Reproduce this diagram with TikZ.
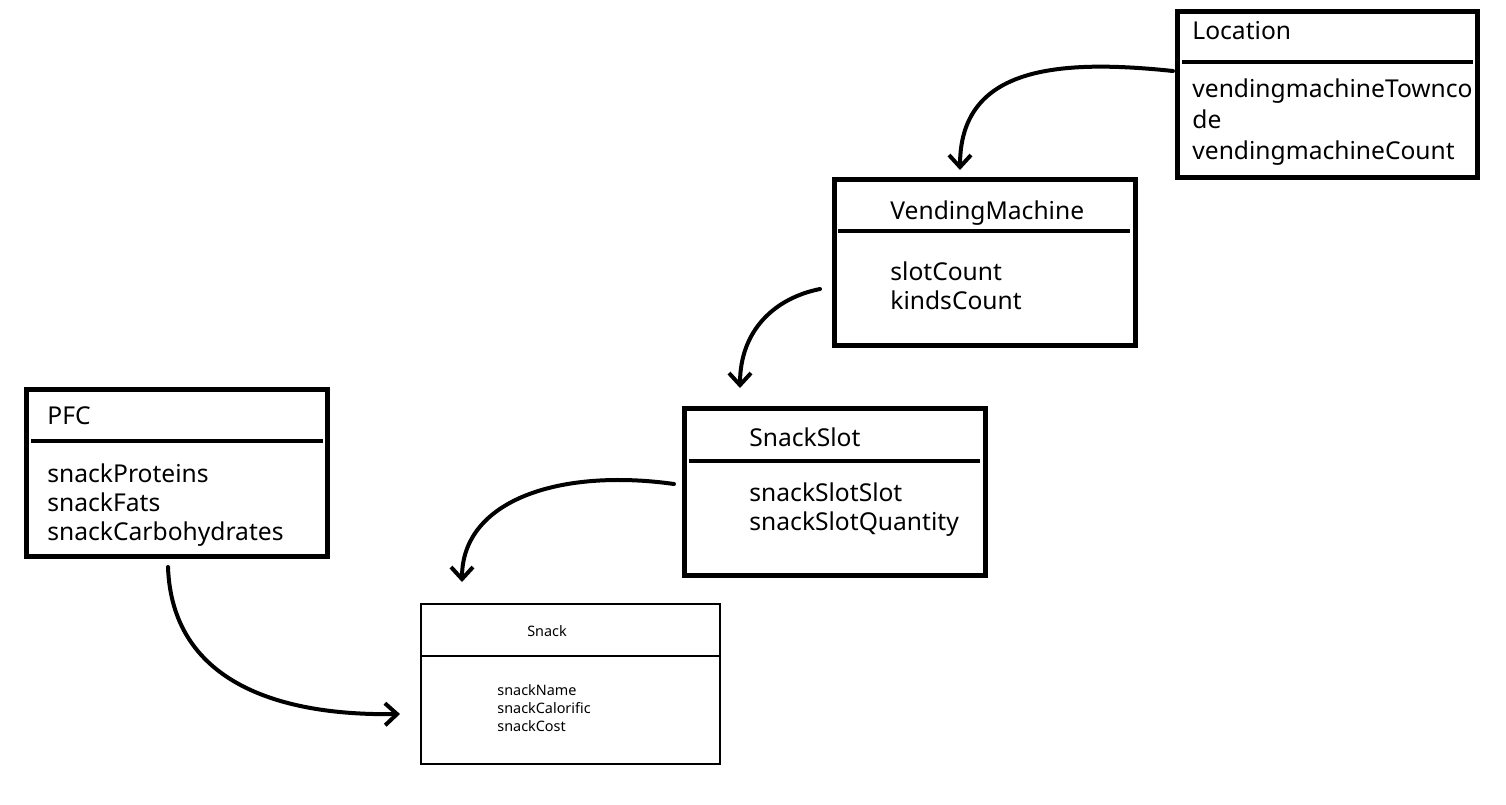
\documentclass[tikz,border=0pt]{standalone}
\usepackage{fontspec}
\setmainfont{Noto Sans}
\usetikzlibrary{arrows.meta,calc}
\tikzset{
  box/.style={draw, line width=2.5pt, rectangle, anchor=north west, inner sep=0pt, outer sep=0pt},
  thinbox/.style={draw, line width=1.2pt, rectangle, anchor=north west, inner sep=0pt, outer sep=0pt},
  divider/.style={line width=2pt},
  thindivider/.style={line width=1.2pt},
  txt/.style={anchor=west, inner sep=0pt, font=\fontsize{12.3pt}{14.5pt}\selectfont, align=left},
  loctxt/.style={anchor=west, inner sep=0pt, font=\fontsize{12.3pt}{15.6pt}\selectfont, align=left},
  smalltxt/.style={anchor=west, inner sep=0pt, font=\fontsize{7.2pt}{9pt}\selectfont, align=left},
  conn/.style={line width=2pt, line cap=round, -{Straight Barb[length=6pt,width=11pt,line width=2pt]}}
}
\begin{document}
\begin{tikzpicture}[x=0.5pt,y=-0.5pt]
\useasboundingbox (0,0) rectangle (1506,804);
% Location
\node[box, minimum width=150pt, minimum height=83pt] (loc) at (1177,11) {};
\draw[divider] ($(loc.north west)+(5,51)$) -- ($(loc.north east)+(-4,51)$);
\node[loctxt] (loct) at (1192,31) {Location};
\node[loctxt] (loca) at (1192,122) {vendingmachineTownco\\de\\vendingmachineCount};
% VendingMachine
\node[box, minimum width=150.5pt, minimum height=83pt] (vm) at (834,179) {};
\draw[divider] ($(vm.north west)+(4,52)$) -- ($(vm.north east)+(-5,52)$);
\node[txt] (vmt) at (890,213) {VendingMachine};
\node[txt] (vma) at (890,286) {slotCount\\kindsCount};
% SnackSlot
\node[box, minimum width=150.5pt, minimum height=83.5pt] (ss) at (684,408) {};
\draw[divider] ($(ss.north west)+(5,53)$) -- ($(ss.north east)+(-5,53)$);
\node[txt] (sst) at (749,437) {SnackSlot};
\node[txt] (ssa) at (749,510) {snackSlotSlot\\snackSlotQuantity};
% PFC
\node[box, minimum width=150.5pt, minimum height=83.5pt] (pfc) at (26,389) {};
\draw[divider] ($(pfc.north west)+(5,52)$) -- ($(pfc.north east)+(-4,52)$);
\node[txt] (pfct) at (47,416) {PFC};
\node[txt] (pfca) at (47,505) {snackProteins\\snackFats\\snackCarbohydrates};
% Snack
\node[thinbox, minimum width=149.5pt, minimum height=80pt] (sn) at (421,604) {};
\draw[thindivider] (sn.north west |- 0,656) -- (sn.north east |- 0,656);
\node[smalltxt, anchor=center] (snt) at (547,631) {Snack};
\node[smalltxt] (sna) at (497,708) {snackName\\snackCalorific\\snackCost};
% connectors
\draw[conn] ($(loc.north west)+(-4,60)$) .. controls (1050,58) and (960,70) .. ($(vm.north west)+(126,-9)$);
\draw[conn] ($(vm.north west)+(-14,110)$) .. controls (775,298) and (740,330) .. ($(ss.north west)+(56,-20)$);
\draw[conn] ($(ss.north west)+(-10,76)$) .. controls (560,468) and (462,500) .. ($(sn.north west)+(41,-22)$);
\draw[conn] ($(pfc.south west)+(142,11)$) .. controls (172,680) and (275,716) .. ($(sn.north west)+(-21,110)$);
\end{tikzpicture}
\end{document}
